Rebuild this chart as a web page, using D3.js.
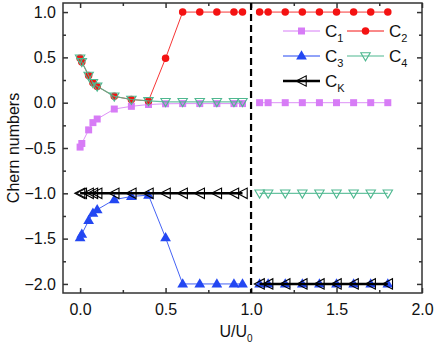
<!DOCTYPE html>
<html><head><meta charset="utf-8">
<script src="https://cdn.jsdelivr.net/npm/d3@7"></script>
<style>body{margin:0;background:#fff}svg{display:block}text{font-family:"Liberation Sans",Arial,sans-serif;fill:#111}</style>
</head><body>
<svg id="c" width="436" height="352"></svg>
<script>
const xLeft = [0, 0.01, 0.05, 0.075, 0.1, 0.2, 0.3, 0.4, 0.5, 0.6, 0.7, 0.8, 0.9, 0.95];
const xRight = [1.05, 1.1, 1.2, 1.3, 1.4, 1.5, 1.6, 1.7, 1.8];
const c1Left = [-0.49, -0.45, -0.30, -0.22, -0.18, -0.07, -0.04, -0.02, -0.012, -0.01, -0.01, -0.01, -0.01, -0.01];
const c1Right = [0, 0, 0, 0, 0, 0, 0, 0, 0];
const c2Left = [0.49, 0.45, 0.30, 0.22, 0.18, 0.07, 0.035, 0.02, 0.49, 1, 1, 1, 1, 1];
const c2Right = [1, 1, 1, 1, 1, 1, 1, 1, 1];
const c3Left = [-1.49, -1.45, -1.30, -1.22, -1.18, -1.07, -1.035, -1.02, -1.49, -2, -2, -2, -2, -2];
const c3Right = [-2, -2, -2, -2, -2, -2, -2, -2, -2];
const c4Left = [0.49, 0.45, 0.30, 0.22, 0.18, 0.07, 0.035, 0.02, 0.01, 0.01, 0.01, 0.01, 0.01, 0.01];
const c4Right = [-1, -1, -1, -1, -1, -1, -1, -1, -1];
const ckLeft = [-1, -1, -1, -1, -1, -1, -1, -1, -1, -1, -1, -1, -1, -1];
const ckRight = [-2, -2, -2, -2, -2, -2, -2, -2, -2];
const xTicks = [0.0, 0.5, 1.0, 1.5, 2.0];
const yTicks = [1.0, 0.5, 0.0, -0.5, -1.0, -1.5, -2.0];
const boundaryX = 1.0;

const svg = d3.select("#c");
const x = d3.scaleLinear().domain([-0.1, 2.0]).range([63, 422]);
const y = d3.scaleLinear().domain([-2.1, 1.1]).range([293, 3]);
const fmt = d3.format(".1f");
const minorX = d3.range(-0.0, 2.01, 0.25).filter(v => Math.abs(v*2 - Math.round(v*2)) > 1e-6);
const minorY = d3.range(-2.0, 1.01, 0.25).filter(v => Math.abs(v*2 - Math.round(v*2)) > 1e-6);

// frame
const axisCol = "#333";
function styleAxis(g){ g.select(".domain").remove(); g.selectAll("line").attr("stroke", axisCol).attr("stroke-width", 1.5); }
svg.append("g").attr("transform", `translate(0,${y.range()[0]})`)
  .call(d3.axisBottom(x).tickValues(xTicks).tickFormat(fmt).tickSizeInner(-5).tickSizeOuter(0).tickPadding(11))
  .call(styleAxis).call(g => g.selectAll("text").attr("font-size", 16).attr("fill", "#111"));
svg.append("g").attr("transform", `translate(0,${y.range()[0]})`)
  .call(d3.axisBottom(x).tickValues(minorX).tickFormat("").tickSizeInner(-3).tickSizeOuter(0)).call(styleAxis);
svg.append("g").attr("transform", `translate(0,${y.range()[1]})`)
  .call(d3.axisTop(x).tickValues(xTicks).tickFormat("").tickSizeInner(-5).tickSizeOuter(0)).call(styleAxis);
svg.append("g").attr("transform", `translate(0,${y.range()[1]})`)
  .call(d3.axisTop(x).tickValues(minorX).tickFormat("").tickSizeInner(-3).tickSizeOuter(0)).call(styleAxis);
svg.append("g").attr("transform", `translate(${x.range()[0]},0)`)
  .call(d3.axisLeft(y).tickValues(yTicks).tickFormat(fmt).tickSizeInner(-5).tickSizeOuter(0).tickPadding(7))
  .call(styleAxis).call(g => g.selectAll("text").attr("font-size", 16).attr("fill", "#111"));
svg.append("g").attr("transform", `translate(${x.range()[0]},0)`)
  .call(d3.axisLeft(y).tickValues(minorY).tickFormat("").tickSizeInner(-3).tickSizeOuter(0)).call(styleAxis);
svg.append("g").attr("transform", `translate(${x.range()[1]},0)`)
  .call(d3.axisRight(y).tickValues(yTicks).tickFormat("").tickSizeInner(-5).tickSizeOuter(0)).call(styleAxis);
svg.append("g").attr("transform", `translate(${x.range()[1]},0)`)
  .call(d3.axisRight(y).tickValues(minorY).tickFormat("").tickSizeInner(-3).tickSizeOuter(0)).call(styleAxis);
svg.append("rect").attr("x", x.range()[0]).attr("y", y.range()[1])
  .attr("width", x.range()[1]-x.range()[0]).attr("height", y.range()[0]-y.range()[1])
  .attr("fill", "none").attr("stroke", axisCol).attr("stroke-width", 1.5);

// dashed boundary
svg.append("line").attr("x1", x(boundaryX)).attr("x2", x(boundaryX)).attr("y1", y.range()[1]).attr("y2", y.range()[0])
  .attr("stroke", "#000").attr("stroke-width", 2.2).attr("stroke-dasharray", "7,4");

// markers
const sym = {
  square: d3.symbol().type(d3.symbolSquare).size(49),
  circle: d3.symbol().type(d3.symbolCircle).size(44),
  triUp: d3.symbol().type(d3.symbolTriangle).size(50),
};
function drawMarker(g, kind, cx, cy, color){
  if (kind === "triDown") {
    g.append("path").attr("d", "M-4.7,-3.3L4.7,-3.3L0,4.8Z").attr("transform", `translate(${cx},${cy})`)
      .attr("fill", "none").attr("stroke", color).attr("stroke-width", 1.1);
  } else if (kind === "triLeft") {
    g.append("path").attr("d", "M-5.3,0L4.7,-5.2L4.7,5.2Z").attr("transform", `translate(${cx},${cy})`)
      .attr("fill", "none").attr("stroke", color).attr("stroke-width", 1.1);
  } else if (kind === "triUp") {
    g.append("path").attr("d", sym.triUp()).attr("transform", `translate(${cx},${cy+0.5})`).attr("fill", color);
  } else {
    g.append("path").attr("d", sym[kind]()).attr("transform", `translate(${cx},${cy})`).attr("fill", color);
  }
}
const series = [
  {name:"1", left:c1Left, right:c1Right, color:"#d77cf6", marker:"square", lw:1},
  {name:"2", left:c2Left, right:c2Right, color:"#f41212", marker:"circle", lw:1},
  {name:"3", left:c3Left, right:c3Right, color:"#2347f2", marker:"triUp", lw:1},
  {name:"4", left:c4Left, right:c4Right, color:"#4fb890", marker:"triDown", lw:1.2},
  {name:"K", left:ckLeft, right:ckRight, color:"#000", marker:"triLeft", lw:2.6},
];
const line = d3.line().x(d => x(d[0])).y(d => y(d[1]));
series.forEach(s => {
  const g = svg.append("g");
  [[xLeft, s.left], [xRight, s.right]].forEach(([xs, ys]) => {
    const pts = xs.map((v, i) => [v, ys[i]]);
    g.append("path").attr("d", line(pts)).attr("fill", "none").attr("stroke", s.color)
      .attr("stroke-width", s.lw).attr("opacity", s.name === "K" ? 1 : 0.85);
    pts.forEach(p => drawMarker(g, s.marker, x(p[0]), y(p[1]), s.color));
  });
});

// legend
const legRows = [[series[0], series[1]], [series[2], series[3]], [series[4]]];
const legY = [31, 56, 81];
const colX = [283, 347];
legRows.forEach((row, r) => row.forEach((s, c) => {
  const g = svg.append("g");
  const x0 = colX[c], yy = legY[r];
  g.append("line").attr("x1", x0).attr("x2", x0 + 37).attr("y1", yy).attr("y2", yy)
    .attr("stroke", s.color).attr("stroke-width", s.lw);
  drawMarker(g, s.marker, x0 + 18.5, yy, s.color);
  const t = g.append("text").attr("x", x0 + 42).attr("y", yy + 6).attr("font-size", 17);
  t.append("tspan").text("C");
  t.append("tspan").attr("font-size", 11).attr("dy", 5).text(s.name);
}));

// axis titles
svg.append("text").attr("transform", `translate(19,148) rotate(-90)`).attr("text-anchor", "middle")
  .attr("font-size", 16).text("Chern numbers");
const xt = svg.append("text").attr("x", 236).attr("y", 337).attr("text-anchor", "middle").attr("font-size", 16);
xt.append("tspan").text("U/U");
xt.append("tspan").attr("font-size", 10).attr("dy", 5).text("0");
</script>
</body></html>
